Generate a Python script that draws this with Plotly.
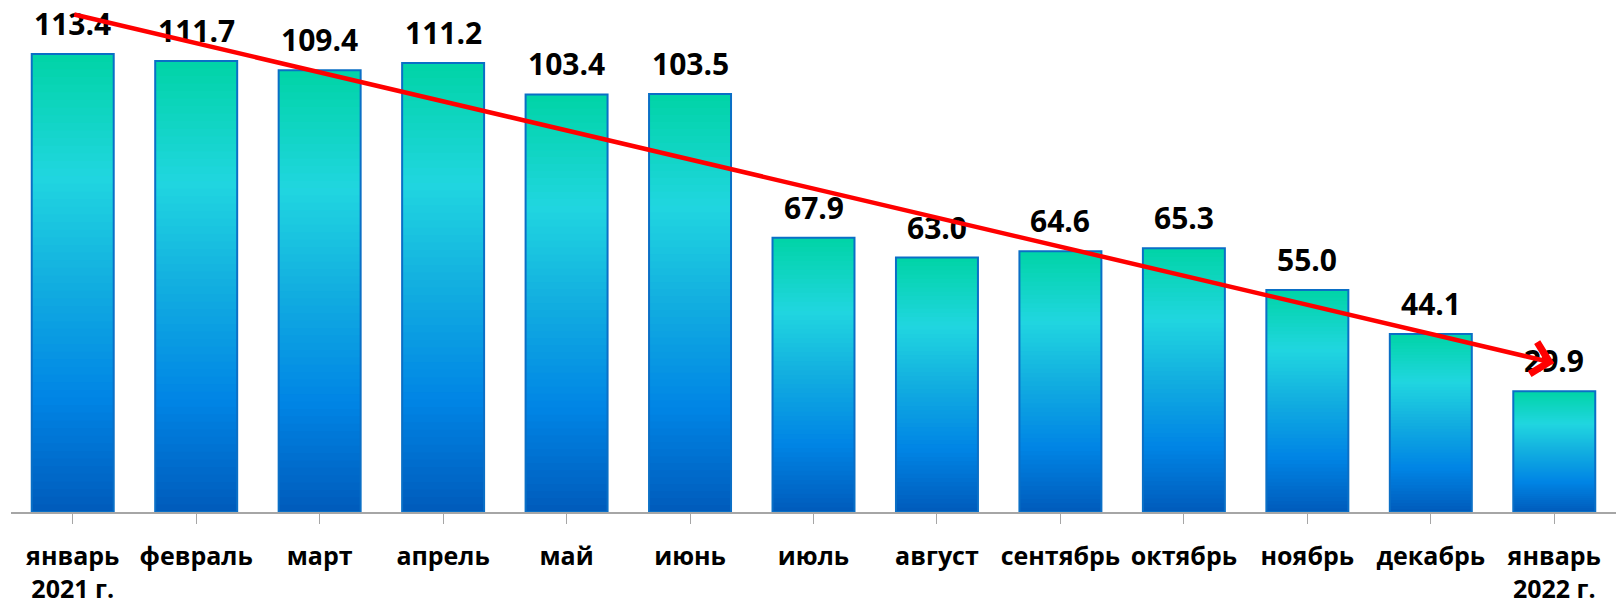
import plotly.graph_objects as go

categories = ["январь<br>2021 г.", "февраль", "март", "апрель", "май", "июнь", "июль",
              "август", "сентябрь", "октябрь", "ноябрь", "декабрь", "январь<br>2022 г."]
values = [113.4, 111.7, 109.4, 111.2, 103.4, 103.5, 67.9, 63.0, 64.6, 65.3, 55.0, 44.1, 29.9]
labels = [f"{v:.1f}" for v in values]

# trend arrow (start value at first month, end value at last month)
trend_start = 123.3
trend_end = 36.9

# vertical gradient stops (fraction of bar height, colour)
stops = [(0.0, (0, 91, 187)), (0.25, (0, 133, 229)), (0.5, (18, 174, 224)),
         (0.73, (32, 214, 224)), (1.0, (0, 212, 166))]

def grad(t):
    for (t0, c0), (t1, c1) in zip(stops[:-1], stops[1:]):
        if t <= t1:
            f = (t - t0) / (t1 - t0)
            return "rgb(%d,%d,%d)" % tuple(round(a + (b - a) * f) for a, b in zip(c0, c1))
    return "rgb(%d,%d,%d)" % stops[-1][1]

x = list(range(len(values)))
N = 60
fig = go.Figure()
# nested bars: tallest (top colour) first, shorter ones drawn over it
for k in reversed(range(N)):
    t = (k + 0.5) / N
    fig.add_trace(go.Bar(
        x=x, y=[v * (k + 1) / N for v in values],
        marker=dict(color=grad(t), line=dict(width=0)),
        hoverinfo="skip", showlegend=False))
# outline
fig.add_trace(go.Bar(x=x, y=values, marker=dict(color="rgba(0,0,0,0)",
                     line=dict(color="#0A6FC6", width=2)), showlegend=False))

for i, (v, lab) in enumerate(zip(values, labels)):
    fig.add_annotation(x=i, y=v, text=f"<b>{lab}</b>", showarrow=False, yanchor="bottom",
                       yshift=8, font=dict(family="Open Sans", size=30, color="black", weight=800))

fig.add_annotation(x=len(values) - 1, y=trend_end, ax=0, ay=trend_start, axref="x", ayref="y",
                   xref="x", yref="y", text="", showarrow=True, arrowhead=4, arrowsize=1.4,
                   arrowwidth=4.5, arrowcolor="#FF0000", standoff=0, startstandoff=0)

fig.update_layout(
    width=1616, height=606, barmode="overlay", bargap=0.336,
    plot_bgcolor="white", paper_bgcolor="white",
    margin=dict(l=11, r=0, t=0, b=94, autoexpand=False),
    xaxis=dict(tickmode="array", tickvals=x, ticktext=[f"<b>{c}</b>" for c in categories],
               range=[-0.5, len(values) - 0.5], tickson="boundaries", ticks="outside",
               ticklen=10, tickcolor="#A6A6A6", showline=True, linecolor="#A6A6A6", linewidth=2,
               showgrid=False, automargin=False,
               tickfont=dict(family="Open Sans", size=25, color="black", weight=800),
               ticklabelstandoff=11),
    yaxis=dict(range=[0, 126.8], visible=False, showgrid=False, automargin=False),
)
fig.write_html("out.html", config={"displayModeBar": False},
               post_script="document.body.style.margin='0';")
